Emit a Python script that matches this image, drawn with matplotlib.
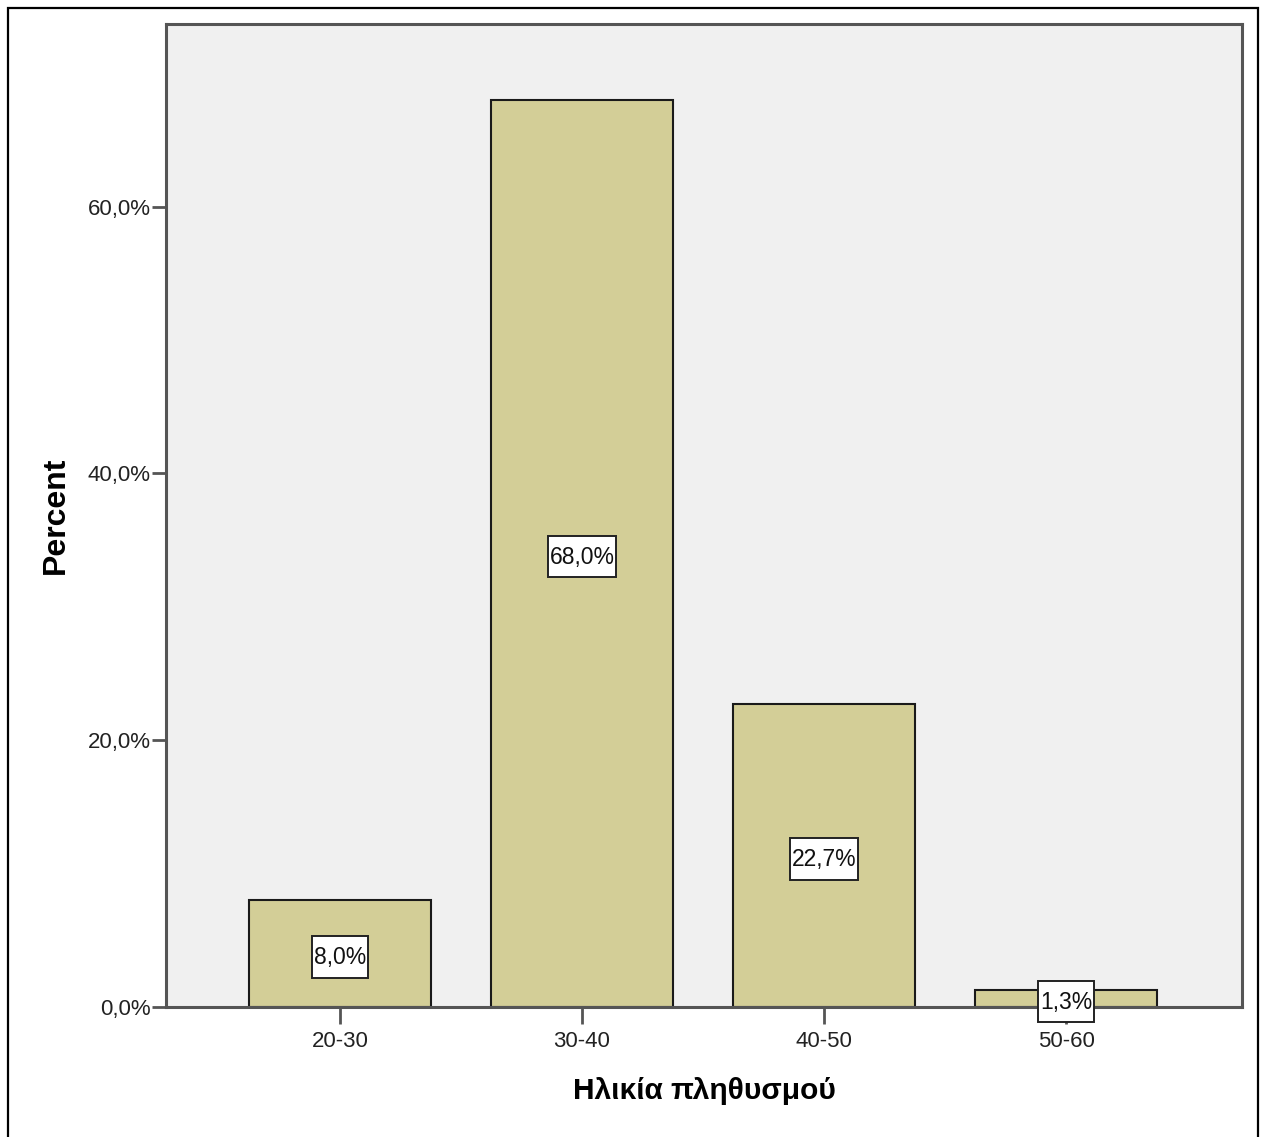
import matplotlib
matplotlib.use("Agg")
import matplotlib.pyplot as plt
from matplotlib.patches import Rectangle
from matplotlib.path import Path

categories = ["20-30", "30-40", "40-50", "50-60"]
percents = [8.0, 68.0, 22.7, 1.3]
value_labels = ["8,0%", "68,0%", "22,7%", "1,3%"]
yticks = [0, 20, 40, 60]
ytick_labels = ["0,0%", "20,0%", "40,0%", "60,0%"]

plt.rcParams['font.family'] = ['Liberation Sans', 'DejaVu Sans']

W, H = 1263, 1137
fig = plt.figure(figsize=(W / 100, H / 100), dpi=100)
fig.patch.set_facecolor("white")

# outer frame
fig.add_artist(Rectangle((8 / W, -0.05), (1258 - 8) / W, 1.05 - 8 / H,
                         transform=fig.transFigure, fill=False,
                         edgecolor="black", linewidth=1.6))

ax = fig.add_axes([166 / W, (H - 1007) / H, (1242 - 166) / W, (1007 - 24) / H])
ax.set_facecolor("#F0F0F0")

x = list(range(len(categories)))
ax.bar(x, percents, width=0.75, color="#D3CE97", edgecolor="#1a1a1a",
       linewidth=1.5, zorder=2)


def tallbox(x0, y0, width, height, mutation_size):
    px = 0.07 * mutation_size
    py_top = 0.44 * mutation_size
    py_bot = 0.36 * mutation_size
    x1, y1 = x0 - px, y0 - py_bot
    x2, y2 = x0 + width + px, y0 + height + py_top
    return Path([(x1, y1), (x2, y1), (x2, y2), (x1, y2), (x1, y1)],
                closed=True)


for xi, v, lab in zip(x, percents, value_labels):
    ax.annotate(lab, xy=(xi, v / 2), xytext=(0, -3), textcoords="offset points",
                ha="center", va="center", fontsize=16.5,
                color="#111111", zorder=10, annotation_clip=False,
                bbox=dict(boxstyle=tallbox, facecolor="white",
                          edgecolor="#222222", linewidth=1.4))

ax.set_xlim(-0.719, 3.727)
ax.set_ylim(0, 73.7)
ax.set_xticks(x)
ax.set_xticklabels(categories, fontsize=16, color="#222222")
ax.set_yticks(yticks)
ax.set_yticklabels(ytick_labels, fontsize=16, color="#222222")

for s in ax.spines.values():
    s.set_color("#555555")
    s.set_linewidth(2.2)
    s.set_zorder(3)

ax.tick_params(axis="y", length=10, width=2, color="#555555", pad=1)
ax.tick_params(axis="x", length=12, width=2, color="#555555", pad=5)

ax.set_ylabel("Percent", fontsize=23, fontweight="bold", labelpad=12)
ax.set_xlabel("Ηλικία πληθυσμού", fontsize=21.5, fontweight="bold", labelpad=18)

fig.savefig("out.png", dpi=100)
